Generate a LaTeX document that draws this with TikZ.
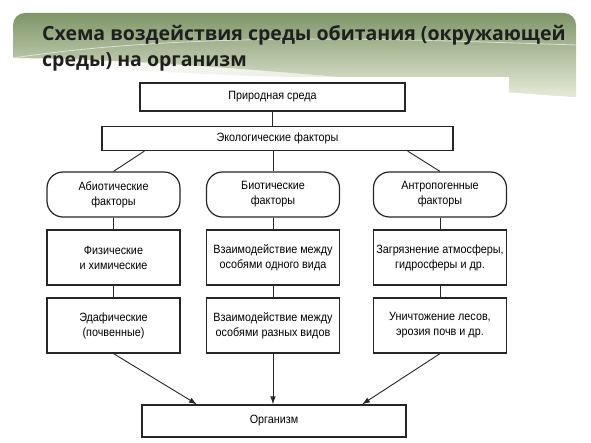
\documentclass[tikz,border=0pt]{standalone}
\usepackage{fontspec}
\setmainfont{Liberation Sans}[FakeStretch=0.9]
\newfontfamily\titlefont{Open Sans}
\usetikzlibrary{arrows.meta}
\definecolor{bannertop}{HTML}{7F9668}
\definecolor{bannerbot}{HTML}{E6EBD9}
\definecolor{inkline}{HTML}{262626}
\tikzset{
  factbox/.style={draw=inkline, line width=1.2bp, rectangle, align=center,
    minimum width=133bp, minimum height=55bp, inner sep=1bp,
    font=\fontsize{12bp}{15bp}\selectfont},
  groupbox/.style={factbox, rounded corners=16bp, minimum height=45bp},
  widebox/.style={factbox, minimum height=28bp},
  link/.style={draw=inkline, line width=0.9bp},
  flow/.style={link, -{Latex[length=8bp,width=5.5bp]}}
}
\begin{document}
\begin{tikzpicture}[x=1bp, y=-1bp]
\useasboundingbox (0,0) rectangle (591,443);
% title banner
\shade[left color=white, right color=bannerbot!85!bannertop]
  (13,58) .. controls (120,72) and (260,80) .. (509,79) -- (576,97)
  .. controls (430,88) and (210,60) .. (13,58) -- cycle;
\shade[top color=bannertop, bottom color=bannerbot]
  (13,58) -- (13,25) arc[start angle=180, end angle=270, radius=12]
  -- (564,13) arc[start angle=270, end angle=360, radius=12]
  -- (576,97) .. controls (430,88) and (210,60) .. (13,58) -- cycle;
\draw[white, opacity=0.6, line width=0.8bp] (13,58) .. controls (200,30) and (420,40) .. (576,45);
\fill[white] (60,77) rectangle (509,443);
\node[anchor=north west, inner sep=0pt, text=black!88, align=left,
  font=\titlefont\bfseries\fontsize{19.5bp}{26.5bp}\selectfont] (title) at (42,25)
  {Схема воздействия среды обитания (окружающей\\среды) на организм};
% diagram
\node[widebox, minimum width=265bp] (nature) at (272.5,97) {Природная среда};
\node[widebox, minimum width=351bp, minimum height=24bp] (eco) at (277.5,138.5) {Экологические факторы};
\node[groupbox] (abio) at (113.5,194.5) {Абиотические\\факторы};
\node[groupbox] (bio) at (273,194.5) {Биотические\\факторы};
\node[groupbox] (anthro) at (440,194.5) {Антропогенные\\факторы};
\node[factbox] (phys) at (113.5,257.5) {Физические\\и химические};
\node[factbox] (intra) at (273,257.5) {Взаимодействие между\\особями одного вида};
\node[factbox] (pollut) at (440,257.5) {Загрязнение атмосферы,\\гидросферы и др.};
\node[factbox] (edaph) at (113.5,325.5) {Эдафические\\(почвенные)};
\node[factbox] (inter) at (273,325.5) {Взаимодействие между\\особями разных видов};
\node[factbox] (destr) at (440,325.5) {Уничтожение лесов,\\эрозия почв и др.};
\node[widebox, minimum width=264bp, minimum height=32bp] (org) at (274,421) {Организм};
\draw[link] (nature.south) -- (nature.south |- eco.north);
\draw[link] ([xshift=43bp]eco.south west) -- (abio.north);
\draw[link] (bio.north |- eco.south) -- (bio.north);
\draw[link] ([xshift=-46bp]eco.south east) -- (anthro.north);
\draw[link] (abio) -- (phys);
\draw[link] (phys) -- (edaph);
\draw[link] (bio) -- (intra);
\draw[link] (intra) -- (inter);
\draw[link] (anthro) -- (pollut);
\draw[link] (pollut) -- (destr);
\draw[flow] (edaph.south) -- ([xshift=-77bp]org.north);
\draw[flow] (inter.south) -- (inter.south |- org.north);
\draw[flow] (destr.south) -- ([xshift=88bp]org.north);
\end{tikzpicture}
\end{document}
